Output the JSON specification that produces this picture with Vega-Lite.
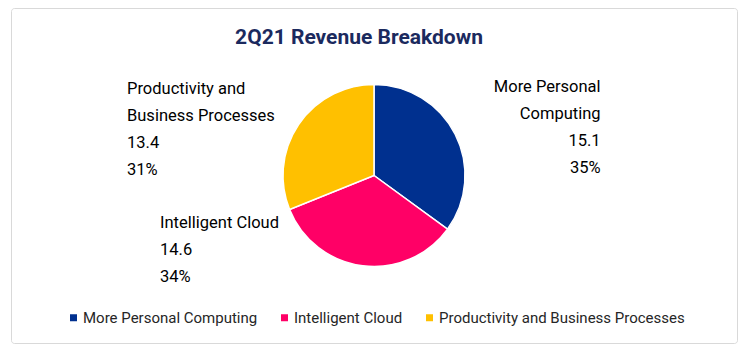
{
  "$schema": "https://vega.github.io/schema/vega-lite/v6.json",
  "autosize": "none",
  "width": 726,
  "height": 335,
  "padding": {"left": 11, "top": 8, "right": 11, "bottom": 10},
  "background": "white",
  "view": {"stroke": "#D9D9D9", "strokeWidth": 1, "cornerRadius": 3},
  "title": {
    "text": "2Q21 Revenue Breakdown",
    "orient": "top",
    "anchor": "middle",
    "frame": "group",
    "offset": -40,
    "dx": -15,
    "font": "Roboto",
    "fontSize": 21,
    "fontWeight": "bold",
    "color": "#1B2A5E"
  },
  "data": {
    "values": [
      {"category": "More Personal Computing", "label": "More Personal\nComputing", "value": 15.1},
      {"category": "Intelligent Cloud", "label": "Intelligent Cloud", "value": 14.6},
      {"category": "Productivity and Business Processes", "label": "Productivity and\nBusiness Processes", "value": 13.4}
    ]
  },
  "transform": [
    {"joinaggregate": [{"op": "sum", "field": "value", "as": "total"}]},
    {"stack": "value", "groupby": [], "sort": [{"field": "value", "order": "descending"}], "as": ["v0", "v1"]},
    {"calculate": "(datum.v0 + datum.v1) / 2", "as": "mid"},
    {"calculate": "datum.label + '\\n' + format(datum.value, '.1f') + '\\n' + format(datum.value / datum.total, '.0%')", "as": "fullLabel"}
  ],
  "layer": [
    {
      "mark": {"type": "arc", "outerRadius": 91, "stroke": "white", "strokeWidth": 1.5},
      "encoding": {
        "theta": {"field": "value", "type": "quantitative", "stack": true},
        "order": {"field": "value", "type": "quantitative", "sort": "descending"},
        "color": {
          "field": "category",
          "type": "nominal",
          "scale": {
            "domain": ["More Personal Computing", "Intelligent Cloud", "Productivity and Business Processes"],
            "range": ["#00308F", "#FF0066", "#FFC000"]
          },
          "legend": {
            "orient": "none",
            "legendX": 55,
            "legendY": 302,
            "direction": "horizontal",
            "title": null,
            "symbolType": "square",
            "symbolSize": 49,
            "symbolStrokeWidth": 0,
            "labelFont": "Roboto",
            "labelFontSize": 15,
            "labelColor": "#262626",
            "labelOffset": 2,
            "columnPadding": 19,
            "labelLimit": 400
          }
        }
      }
    },
    {
      "transform": [{"filter": "datum.category == 'More Personal Computing'"}],
      "mark": {"type": "text", "radius": 105, "align": "right", "baseline": "middle", "dx": 133, "dy": -41, "lineBreak": "\n", "lineHeight": 27, "font": "Roboto", "fontSize": 16.5, "color": "#000000"},
      "encoding": {
        "theta": {"field": "mid", "type": "quantitative", "stack": null},
        "text": {"field": "fullLabel"}
      }
    },
    {
      "transform": [{"filter": "datum.category == 'Intelligent Cloud'"}],
      "mark": {"type": "text", "radius": 105, "align": "left", "baseline": "middle", "dx": -201, "dy": -57, "lineBreak": "\n", "lineHeight": 27, "font": "Roboto", "fontSize": 16.5, "color": "#000000"},
      "encoding": {
        "theta": {"field": "mid", "type": "quantitative", "stack": null},
        "text": {"field": "fullLabel"}
      }
    },
    {
      "transform": [{"filter": "datum.category == 'Productivity and Business Processes'"}],
      "mark": {"type": "text", "radius": 105, "align": "left", "baseline": "middle", "dx": -160, "dy": -28, "lineBreak": "\n", "lineHeight": 27, "font": "Roboto", "fontSize": 16.5, "color": "#000000"},
      "encoding": {
        "theta": {"field": "mid", "type": "quantitative", "stack": null},
        "text": {"field": "fullLabel"}
      }
    }
  ]
}
